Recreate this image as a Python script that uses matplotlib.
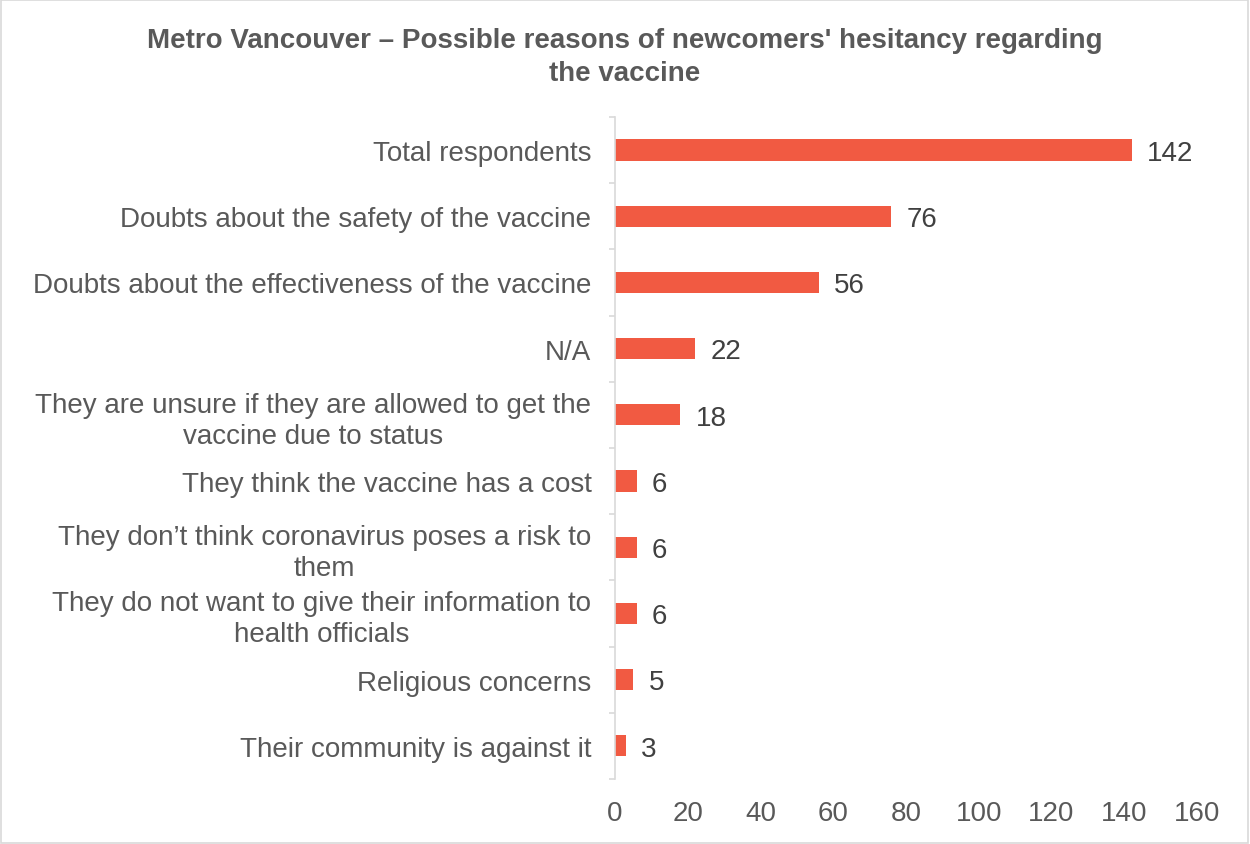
import matplotlib.pyplot as plt
from matplotlib.patches import Rectangle

plt.rcParams['font.family'] = ['Liberation Sans', 'DejaVu Sans']

# survey answers, top to bottom
reasons = [
    "Total respondents",
    "Doubts about the safety of the vaccine",
    "Doubts about the effectiveness of the vaccine",
    "N/A",
    "They are unsure if they are allowed to get the\nvaccine due to status",
    "They think the vaccine has a cost",
    "They don\u2019t think coronavirus poses a risk to\nthem",
    "They do not want to give their information to\nhealth officials",
    "Religious concerns",
    "Their community is against it",
]
counts = [142, 76, 56, 22, 18, 6, 6, 6, 5, 3]
xticks = [0, 20, 40, 60, 80, 100, 120, 140, 160]

bar_color = '#F15A42'
text_gray = '#595959'
line_gray = '#D9D9D9'

fig = plt.figure(figsize=(12.5, 8.45), dpi=100)
ax = fig.add_axes([0.492, 0.077, 0.4656, 0.7834])

pos = list(range(len(reasons)))
ax.barh(pos, counts, height=0.32, color=bar_color)
for y, v in zip(pos, counts):
    ax.annotate(str(v), (v, y), xytext=(11, -2), textcoords='offset points',
                va='center', ha='left', fontsize=20, color='#404040')

ax.set_xlim(0, 160)
ax.set_ylim(len(reasons) - 0.5, -0.5)
ax.set_xticks(xticks)
ax.set_yticks(pos)
ax.set_yticklabels(reasons, multialignment='center', linespacing=1.25)
ax.set_yticks([p - 0.5 for p in pos] + [len(reasons) - 0.5], minor=True)

ax.tick_params(axis='y', which='major', length=0, pad=17, labelsize=20,
               labelcolor=text_gray)
ax.tick_params(axis='y', which='minor', length=4.5, width=1.2, color=line_gray)
ax.tick_params(axis='x', length=0, pad=15, labelsize=20, labelcolor=text_gray)

for side in ('top', 'right', 'bottom'):
    ax.spines[side].set_visible(False)
ax.spines['left'].set_color(line_gray)
ax.spines['left'].set_linewidth(1.2)

fig.text(0.5, 0.932, "Metro Vancouver \u2013 Possible reasons of newcomers' hesitancy regarding\nthe vaccine",
         ha='center', va='center', fontsize=20, fontweight='bold', color=text_gray,
         linespacing=1.35)

fig.patches.append(Rectangle((0.0005, 0.0008), 0.998, 0.998, transform=fig.transFigure,
                             fill=False, edgecolor=line_gray, linewidth=1.2))

fig.savefig('out.png', dpi=100)
